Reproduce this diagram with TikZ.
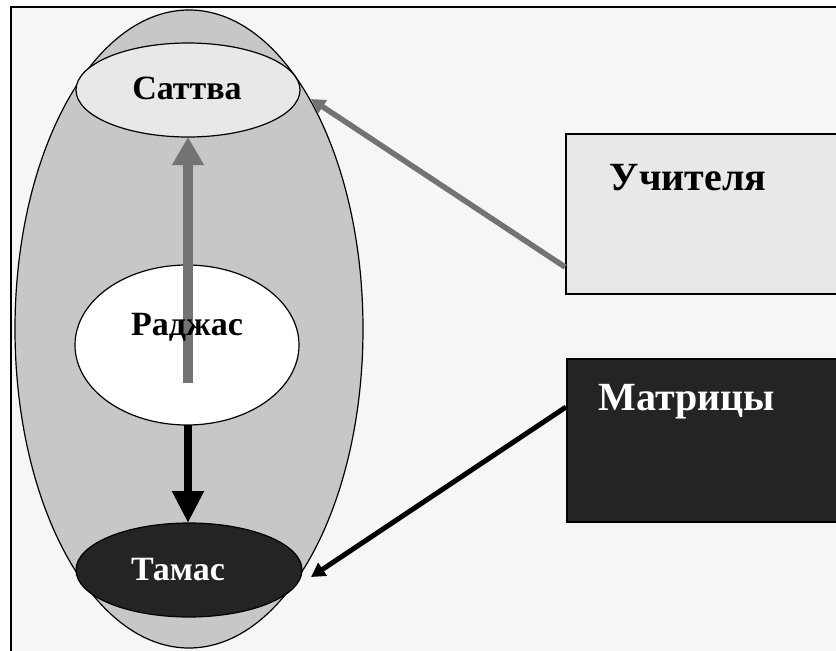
\documentclass[tikz,border=0pt]{standalone}
\usepackage{fontspec}
\setmainfont{Liberation Serif}
\usetikzlibrary{arrows.meta}
\definecolor{bg}{gray}{0.965}
\definecolor{outer}{gray}{0.78}
\definecolor{light}{gray}{0.91}
\definecolor{dark}{gray}{0.14}
\definecolor{arrgray}{gray}{0.45}
\tikzset{
  lbl/.style={font=\bfseries\fontsize{34}{36}\selectfont, inner sep=0pt},
  boxlbl/.style={font=\bfseries\fontsize{40}{42}\selectfont, inner sep=0pt},
  panel/.style={draw=black, line width=1.5pt, inner sep=0pt, anchor=north west},
  ellline/.style={draw=black, line width=1.2pt},
}
\begin{document}
\begin{tikzpicture}[x=1pt,y=1pt]
\useasboundingbox (0,0) rectangle (836,-651);
\fill[white] (0,0) rectangle (836,-651);
\fill[bg] (11,-7) rectangle (836,-651);
\draw[line width=2pt] (11,-651) -- (11,-7) -- (836,-7);
% big ellipse
\filldraw[fill=outer, ellline] (189,-329) ellipse [x radius=174, y radius=319];
% inner ellipses
\filldraw[fill=light, ellline] (188,-90) ellipse [x radius=112, y radius=47];
\filldraw[fill=white, ellline] (187,-345) ellipse [x radius=112, y radius=80];
\filldraw[fill=dark, ellline] (189,-570) ellipse [x radius=113, y radius=47];
% named anchor coordinates
\coordinate (satS) at (188,-137);
\coordinate (satE) at (311,-99);
\coordinate (rajIn) at (188,-383);
\coordinate (rajS) at (188,-425);
\coordinate (tamN) at (188,-523);
\coordinate (tamE) at (311,-577);
% boxes
\node[panel, fill=light, minimum width=275pt, minimum height=160pt] (uch) at (565,-133) {};
\node[panel, fill=dark, minimum width=275pt, minimum height=163pt] (mat) at (566,-358) {};
\coordinate (uchW) at (565,-267);
\coordinate (matW) at (566,-407);
% arrows
\draw[arrgray, line width=10pt, -{Triangle[width=30pt,length=28pt]}] (rajIn) -- (satS);
\draw[black, line width=8pt, -{Triangle[width=30pt,length=32pt]}] (rajS) -- (tamN);
\draw[arrgray, line width=5.5pt, -{Triangle[width=15pt,length=14pt]}] (uchW) -- (satE);
\draw[black, line width=5pt, -{Triangle[width=15pt,length=14pt]}] (matW) -- (tamE);
% labels
\node[lbl] (sat) at (187,-88) {Саттва};
\node[lbl] (raj) at (187,-327) {Раджас};
\node[lbl, text=white] (tam) at (178,-570) {Тамас};
\node[boxlbl] (uchl) at (688,-178) {Учителя};
\node[boxlbl, text=white] (matl) at (687,-402) {Матрицы};
\end{tikzpicture}
\end{document}
